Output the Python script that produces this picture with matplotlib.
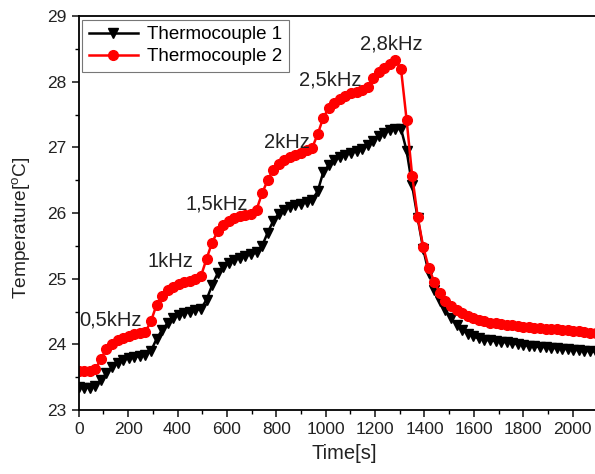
import numpy as np
import matplotlib
matplotlib.use("Agg")
import matplotlib.pyplot as plt
from matplotlib.ticker import MultipleLocator

plt.rcParams['font.family'] = ['Liberation Sans', 'DejaVu Sans']
plt.rcParams['mathtext.fontset'] = 'custom'
plt.rcParams['mathtext.rm'] = 'Liberation Sans'

# sample spacing of the logger (s)
time_step = 22.5
n_samples = 94
time_s = np.arange(n_samples) * time_step

thermocouple_1 = [
    23.35, 23.34, 23.34, 23.36, 23.46, 23.56, 23.65, 23.71, 23.76, 23.79,
    23.81, 23.82, 23.84, 23.90, 24.08, 24.22, 24.32, 24.40, 24.45, 24.48,
    24.50, 24.52, 24.54, 24.68, 24.90, 25.08, 25.18, 25.24, 25.29, 25.32,
    25.35, 25.37, 25.40, 25.50, 25.70, 25.88, 25.99, 26.05, 26.09, 26.12,
    26.14, 26.17, 26.20, 26.33, 26.62, 26.73, 26.80, 26.85, 26.89, 26.92,
    26.95, 26.97, 27.03, 27.10, 27.17, 27.22, 27.26, 27.28, 27.28, 26.95,
    26.42, 25.92, 25.45, 25.08, 24.83, 24.66, 24.52, 24.40, 24.30, 24.22,
    24.16, 24.12, 24.09, 24.07, 24.06, 24.05, 24.04, 24.03, 24.02, 24.00,
    23.99, 23.98, 23.97, 23.96, 23.96, 23.95, 23.94, 23.93, 23.93, 23.92,
    23.91, 23.90, 23.90, 23.89,
]

thermocouple_2 = [
    23.60, 23.60, 23.60, 23.62, 23.78, 23.93, 24.01, 24.06, 24.10, 24.13,
    24.15, 24.17, 24.19, 24.35, 24.60, 24.74, 24.83, 24.88, 24.92, 24.95,
    24.97, 25.00, 25.04, 25.30, 25.55, 25.72, 25.82, 25.88, 25.92, 25.95,
    25.97, 25.99, 26.05, 26.30, 26.50, 26.66, 26.75, 26.80, 26.85, 26.89,
    26.92, 26.96, 26.99, 27.20, 27.45, 27.60, 27.68, 27.74, 27.78, 27.82,
    27.85, 27.87, 27.92, 28.06, 28.15, 28.21, 28.27, 28.33, 28.19, 27.42,
    26.57, 25.94, 25.48, 25.16, 24.95, 24.78, 24.66, 24.58, 24.52, 24.47,
    24.43, 24.40, 24.37, 24.35, 24.33, 24.32, 24.31, 24.30, 24.29, 24.28,
    24.27, 24.26, 24.25, 24.25, 24.24, 24.23, 24.23, 24.22, 24.22, 24.21,
    24.20, 24.19, 24.18, 24.17,
]

freq_labels = ["0,5kHz", "1kHz", "1,5kHz", "2kHz", "2,5kHz", "2,8kHz"]
freq_label_t = [129, 372, 560, 843, 1019, 1267]
freq_label_T = [24.37, 25.26, 26.14, 27.08, 28.03, 28.58]

fig = plt.figure(figsize=(5.95, 4.74), dpi=100)
ax = fig.add_axes([78.7 / 595, 64 / 474, (597.4 - 78.7) / 595, 394 / 474])

ax.plot(time_s, thermocouple_1, color='black', marker='v', markersize=7,
        linewidth=1.8, label='Thermocouple 1')
ax.plot(time_s, thermocouple_2, color='red', marker='o', markersize=7,
        linewidth=1.8, label='Thermocouple 2')

for lab, tx, ty in zip(freq_labels, freq_label_t, freq_label_T):
    ax.text(tx, ty, lab, ha='center', va='center', fontsize=14.5, color='#222222')

ax.set_xlim(0, 2100)
ax.set_ylim(23, 29)
ax.xaxis.set_major_locator(MultipleLocator(200))
ax.xaxis.set_minor_locator(MultipleLocator(100))
ax.yaxis.set_major_locator(MultipleLocator(1))
ax.yaxis.set_minor_locator(MultipleLocator(0.5))
ax.tick_params(which='major', direction='out', length=5, width=1.2, labelsize=12.5,
               colors='#222222', pad=4)
ax.tick_params(which='minor', direction='out', length=3, width=1.0)
for s in ax.spines.values():
    s.set_linewidth(1.3)

ax.set_xlabel('Time[s]', fontsize=14.5, color='#222222')
ax.set_ylabel(r'Temperature[$^\mathrm{o}$C]', fontsize=13.8, color='#222222')
ax.xaxis.set_label_coords(0.5115, -0.087)
ax.yaxis.set_label_coords(-0.088, 0.462)

leg = ax.legend(loc='upper left', fontsize=13.5, frameon=True, fancybox=False,
                edgecolor='#555555', borderaxespad=0.2, handlelength=2.6,
                borderpad=0.35, labelspacing=0.25, handletextpad=0.5)
leg.get_frame().set_linewidth(0.8)

fig.savefig('out.png', dpi=100)
